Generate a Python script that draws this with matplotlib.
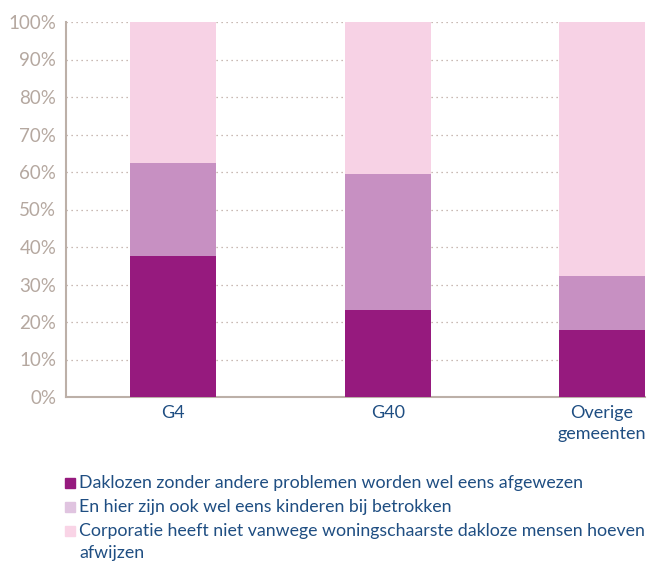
import matplotlib.pyplot as plt
from matplotlib.patches import Rectangle
import numpy as np

categories = ["G4", "G40", "Overige\ngemeenten"]
afgewezen = [37.5, 23.2, 17.9]
kinderen = [25.0, 36.3, 14.4]
niet_afwijzen = [37.5, 40.5, 67.7]
series_labels = ["Daklozen zonder andere problemen worden wel eens afgewezen",
                 "En hier zijn ook wel eens kinderen bij betrokken",
                 "Corporatie heeft niet vanwege woningschaarste dakloze mensen hoeven\nafwijzen"]
yticks = [0, 10, 20, 30, 40, 50, 60, 70, 80, 90, 100]

colors = ["#961A7E", "#C790C2", "#F7D2E5"]
legend_colors = ["#961A7E", "#E0C4E0", "#F9D4E6"]
grey = "#B5A8A0"
blue = "#1F4E82"

plt.rcParams['font.family'] = ['Lato', 'DejaVu Sans']

W, H = 651, 561
fig = plt.figure(figsize=(W / 100, H / 100), dpi=100)
ax = fig.add_axes([66 / W, 1 - 397 / H, 579 / W, 375 / H])

x = np.arange(len(categories))
bottom = np.zeros(len(categories))
for vals, c in zip([afgewezen, kinderen, niet_afwijzen], colors):
    ax.bar(x, vals, bottom=bottom, width=0.4, color=c, zorder=3)
    bottom += np.array(vals)

ax.set_xlim(-0.5, 2.2)
ax.set_ylim(0, 100)
ax.set_yticks(yticks)
ax.set_yticklabels([f"{t}%" for t in yticks])
ax.yaxis.grid(True, linestyle=(0, (1, 3)), color="#B8A49C", linewidth=0.9, zorder=0)
ax.set_xticks(x)
ax.set_xticklabels(categories, color=blue, fontsize=13, va="top", linespacing=1.35)
ax.tick_params(axis="y", colors=grey, labelcolor=grey, labelsize=13.5, length=0, pad=7)
ax.tick_params(axis="x", length=0, pad=6)
for s in ["top", "right"]:
    ax.spines[s].set_visible(False)
for s in ["left", "bottom"]:
    ax.spines[s].set_color("#BCB0A8")
    ax.spines[s].set_linewidth(1.5)

# legend drawn by hand so the square sits on the first line of a wrapped label
legend_y = [483, 507, 531]
for lab, c, yy in zip(series_labels, legend_colors, legend_y):
    fig.patches.append(Rectangle((65 / W, 1 - (yy + 5) / H), 10 / W, 10 / H,
                                 transform=fig.transFigure, color=c))
    lines = lab.split("\n")
    for i, ln in enumerate(lines):
        fig.text(79 / W, 1 - (yy + 22 * i) / H, ln, color=blue, fontsize=12.8,
                 va="center", ha="left")

fig.savefig("out.png", dpi=100)
